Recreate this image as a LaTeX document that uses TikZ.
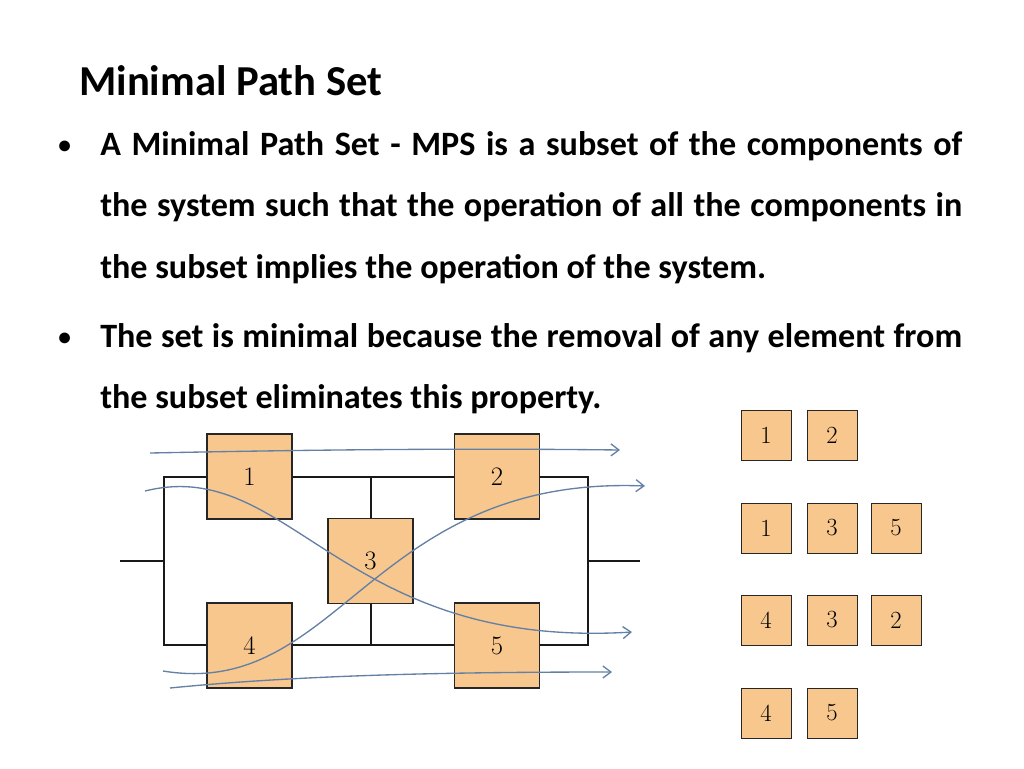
\documentclass[tikz,border=0pt]{standalone}
\usepackage{fontspec}
\usetikzlibrary{arrows.meta}
\newfontfamily\carl{Carlito}
\definecolor{boxfill}{RGB}{247,199,142}
\definecolor{pathcol}{RGB}{100,128,165}
\begin{document}
\begin{tikzpicture}[x=0.75pt,y=-0.75pt,
  comp/.style={draw=black!85,line width=1pt,fill=boxfill,minimum size=63.75pt,inner sep=0pt,font=\fontsize{20}{22}\selectfont},
  sm/.style={draw=black!85,line width=0.7pt,fill=boxfill,minimum size=37.5pt,inner sep=0pt,font=\fontsize{18.5}{20}\selectfont},
  rail/.style={line width=1.5pt,black!90},
  path/.style={draw=pathcol,line width=1pt,-{Straight Barb[length=6pt,width=9pt]}},
  txt/.style={anchor=base west,inner sep=0pt,font=\carl\bfseries\fontsize{25.6}{30}\selectfont},
  bul/.style={anchor=base west,inner sep=0pt,font=\carl\bfseries\fontsize{19}{30}\selectfont}]
\useasboundingbox (0,0) rectangle (1024,768);
\node[anchor=base west,inner sep=0pt,font=\carl\bfseries\fontsize{32}{36}\selectfont] (title) at (79,95) {Minimal Path Set};
\node[bul] (b1) at (58,153) {•};
\node[bul] (b2) at (58,345) {•};
\node[txt] (l1) at (100,155) {\makebox[646.5pt][s]{A Minimal Path Set - MPS is a subset of the components of}};
\node[txt] (l2) at (100,216) {\makebox[646.5pt][s]{the system such that the operation of all the components in}};
\node[txt] (l3) at (100,278) {the subset implies the operation of the system.};
\node[txt] (l4) at (100,347) {\makebox[646.5pt][s]{The set is minimal because the removal of any element from}};
\node[txt] (l5) at (100,408) {the subset eliminates this property.};
% rails
\coordinate (tl) at (164,477); \coordinate (tr) at (588,477);
\coordinate (bl) at (164,645); \coordinate (br) at (588,645);
\coordinate (li) at (120,561); \coordinate (lo) at (640,561);
\coordinate (ml) at (164,561); \coordinate (mr) at (588,561);
\coordinate (t3) at (371,477); \coordinate (b3) at (371,645);
\draw[rail] (tl) -- (tr) -- (br) -- (bl) -- cycle;
\draw[rail] (li) -- (ml) (mr) -- (lo) (t3) -- (b3);
\node[comp] (c1) at (249.5,476.5) {1};
\node[comp] (c2) at (497,476.5) {2};
\node[comp] (c3) at (370.5,561) {3};
\node[comp] (c4) at (249.5,645.5) {4};
\node[comp] (c5) at (497,645.5) {5};
% paths
\coordinate (pa1) at (150,453); \coordinate (pa2) at (620,450);
\coordinate (pb1) at (145,491); \coordinate (pb2) at (632,632);
\coordinate (pc1) at (163,671); \coordinate (pc2) at (645,486);
\coordinate (pd1) at (170,688); \coordinate (pd2) at (612,672);
\draw[path] (pa1) .. controls (300,450) and (450,448) .. (pa2);
\draw[path] (pb1) .. controls (290,455) and (340,650) .. (pb2);
\draw[path] (pc1) .. controls (340,700) and (370,475) .. (pc2);
\draw[path] (pd1) .. controls (300,675) and (450,672) .. (pd2);
% right boxes
\node[sm] (r11) at (766,435) {1}; \node[sm] (r12) at (832,435) {2};
\node[sm] (r21) at (766,528) {1}; \node[sm] (r22) at (832,528) {3}; \node[sm] (r23) at (896,528) {5};
\node[sm] (r31) at (766,620) {4}; \node[sm] (r32) at (832,620) {3}; \node[sm] (r33) at (896,620) {2};
\node[sm] (r41) at (766,713) {4}; \node[sm] (r42) at (832,713) {5};
\end{tikzpicture}
\end{document}
